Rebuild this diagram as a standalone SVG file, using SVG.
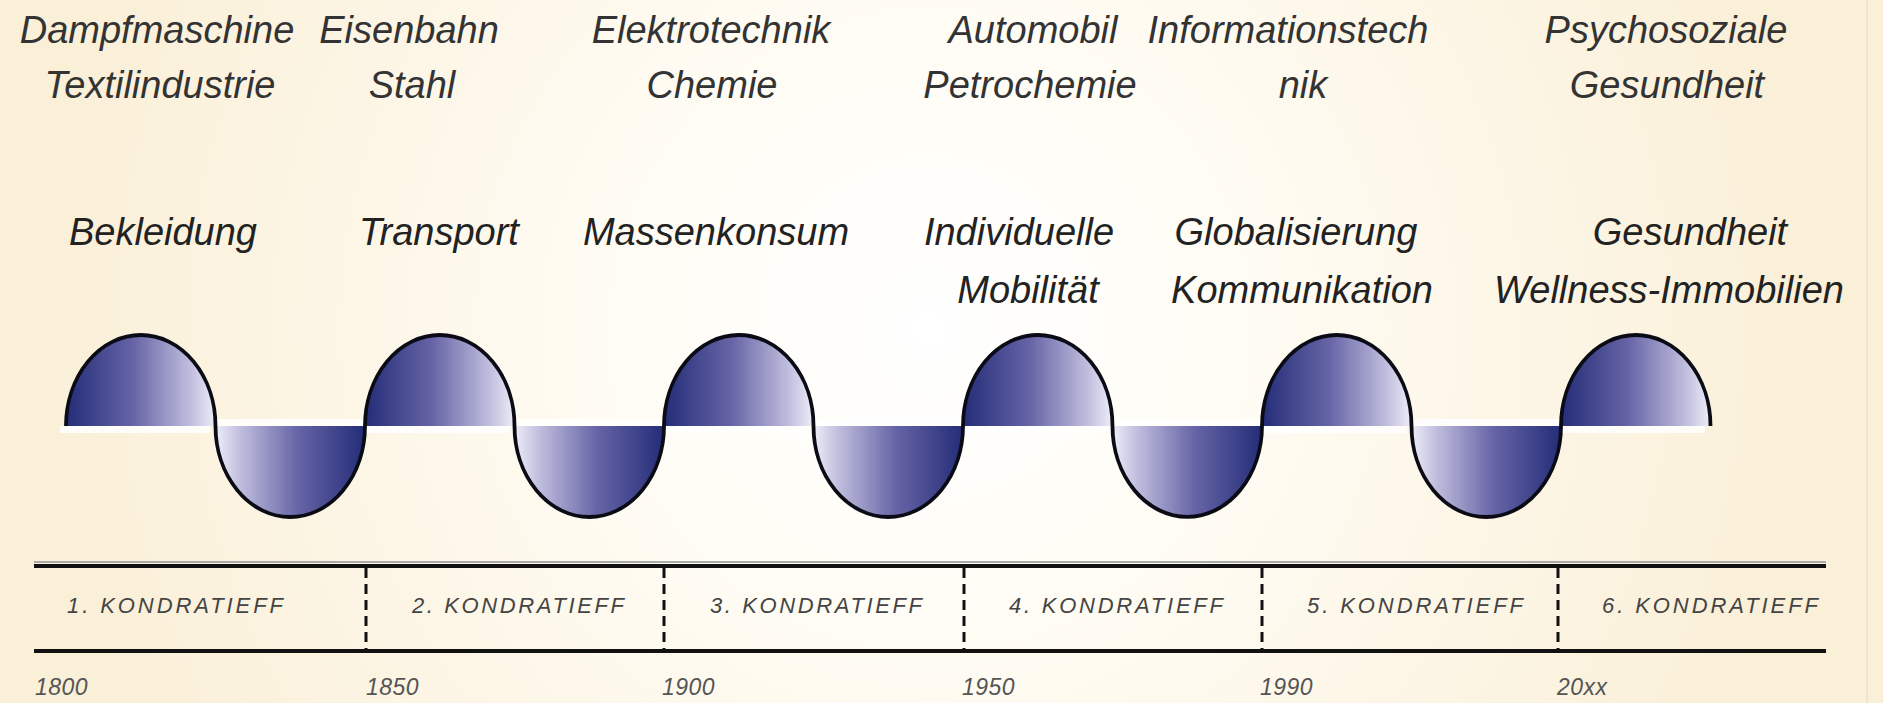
<svg xmlns="http://www.w3.org/2000/svg" width="1883" height="703" viewBox="0 0 1883 703">
<style>
.top{font-family:"Liberation Sans",Arial,sans-serif;font-style:italic;font-size:38px;fill:#333;text-anchor:middle}
.mid{font-family:"Liberation Sans",Arial,sans-serif;font-style:italic;font-size:38px;fill:#222;text-anchor:middle}
.k{font-family:"Liberation Sans",Arial,sans-serif;font-style:italic;font-size:22px;fill:#444;text-anchor:middle}
.yr{font-family:"Liberation Sans",Arial,sans-serif;font-style:italic;font-size:23px;fill:#555;letter-spacing:0.5px}
.hump{fill:url(#gh)}
.trough{fill:url(#gt)}
.glow{fill:#fff;opacity:0.85}
.sep{stroke:#111;stroke-width:3;stroke-dasharray:10 6;fill:none}
.axis{stroke:#111;stroke-width:4;fill:none}
</style>
<defs>
<radialGradient id="bg" cx="930" cy="330" r="900" gradientUnits="userSpaceOnUse">
<stop offset="0" stop-color="#ffffff"/>
<stop offset="0.35" stop-color="#fffcf4"/>
<stop offset="1" stop-color="#faefd7"/>
</radialGradient>
<linearGradient id="gh" x1="0" y1="0" x2="1" y2="0">
<stop offset="0" stop-color="#242d78"/>
<stop offset="0.45" stop-color="#6664a6"/>
<stop offset="0.85" stop-color="#c4c2e0"/>
<stop offset="1" stop-color="#eeeef8"/>
</linearGradient>
<linearGradient id="gt" x1="0" y1="0" x2="1" y2="0">
<stop offset="0" stop-color="#eeeef8"/>
<stop offset="0.15" stop-color="#c4c2e0"/>
<stop offset="0.55" stop-color="#6664a6"/>
<stop offset="1" stop-color="#242d78"/>
</linearGradient>
</defs>
<rect x="0" y="0" width="1883" height="703" fill="url(#bg)"/>
<line x1="1867" y1="0" x2="1867" y2="703" stroke="#efe5cf" stroke-width="2"/>

<g id="wave">
<g id="glows">
<rect class="glow" x="60" y="426" width="150" height="7"/>
<rect class="glow" x="359" y="426" width="150" height="7"/>
<rect class="glow" x="658" y="426" width="150" height="7"/>
<rect class="glow" x="957" y="426" width="150" height="7"/>
<rect class="glow" x="1256" y="426" width="150" height="7"/>
<rect class="glow" x="1555" y="426" width="150" height="7"/>
<rect class="glow" x="216" y="419" width="149" height="7"/>
<rect class="glow" x="515" y="419" width="149" height="7"/>
<rect class="glow" x="814" y="419" width="149" height="7"/>
<rect class="glow" x="1113" y="419" width="149" height="7"/>
<rect class="glow" x="1412" y="419" width="149" height="7"/>
</g>
<g id="humps">
<path class="hump" d="M66,426 A74.75,91 0 0 1 215.5,426 Z"/>
<path class="hump" d="M365,426 A74.75,91 0 0 1 514.5,426 Z"/>
<path class="hump" d="M664,426 A74.75,91 0 0 1 813.5,426 Z"/>
<path class="hump" d="M963,426 A74.75,91 0 0 1 1112.5,426 Z"/>
<path class="hump" d="M1262,426 A74.75,91 0 0 1 1411.5,426 Z"/>
<path class="hump" d="M1561,426 A74.75,91 0 0 1 1710.5,426 Z"/>
</g>
<g id="troughs">
<path class="trough" d="M215.5,426 A74.75,91 0 0 0 365,426 Z"/>
<path class="trough" d="M514.5,426 A74.75,91 0 0 0 664,426 Z"/>
<path class="trough" d="M813.5,426 A74.75,91 0 0 0 963,426 Z"/>
<path class="trough" d="M1112.5,426 A74.75,91 0 0 0 1262,426 Z"/>
<path class="trough" d="M1411.5,426 A74.75,91 0 0 0 1561,426 Z"/>
</g>
<path id="curve" fill="none" stroke="#0b0b16" stroke-width="3.8" d="M66,426 A74.75,91 0 0 1 215.5,426 A74.75,91 0 0 0 365,426 A74.75,91 0 0 1 514.5,426 A74.75,91 0 0 0 664,426 A74.75,91 0 0 1 813.5,426 A74.75,91 0 0 0 963,426 A74.75,91 0 0 1 1112.5,426 A74.75,91 0 0 0 1262,426 A74.75,91 0 0 1 1411.5,426 A74.75,91 0 0 0 1561,426 A74.75,91 0 0 1 1710.5,426"/>
</g>

<g id="timeline">
<line x1="34" y1="562" x2="1826" y2="562" stroke="#aaa" stroke-width="2"/>
<line class="axis" x1="34" y1="566" x2="1826" y2="566"/>
<line class="axis" x1="34" y1="651" x2="1826" y2="651"/>
<line class="sep" x1="366" y1="568" x2="366" y2="649"/>
<line class="sep" x1="664" y1="568" x2="664" y2="649"/>
<line class="sep" x1="964" y1="568" x2="964" y2="649"/>
<line class="sep" x1="1262" y1="568" x2="1262" y2="649"/>
<line class="sep" x1="1558" y1="568" x2="1558" y2="649"/>
</g>

<g id="k1"><text class="k" x="175" y="613" textLength="216" lengthAdjust="spacing">1. KONDRATIEFF</text><text class="yr" x="35" y="695">1800</text></g>
<g id="k2"><text class="k" x="518" y="613" textLength="212" lengthAdjust="spacing">2. KONDRATIEFF</text><text class="yr" x="366" y="695">1850</text></g>
<g id="k3"><text class="k" x="816" y="613" textLength="212" lengthAdjust="spacing">3. KONDRATIEFF</text><text class="yr" x="662" y="695">1900</text></g>
<g id="k4"><text class="k" x="1116" y="613" textLength="214" lengthAdjust="spacing">4. KONDRATIEFF</text><text class="yr" x="962" y="695">1950</text></g>
<g id="k5"><text class="k" x="1415" y="613" textLength="216" lengthAdjust="spacing">5. KONDRATIEFF</text><text class="yr" x="1260" y="695">1990</text></g>
<g id="k6"><text class="k" x="1710" y="613" textLength="216" lengthAdjust="spacing">6. KONDRATIEFF</text><text class="yr" x="1557" y="695">20xx</text></g>

<g id="tech1"><text class="top" x="157" y="43">Dampfmaschine</text><text class="top" x="160" y="98">Textilindustrie</text></g>
<g id="tech2"><text class="top" x="409" y="43">Eisenbahn</text><text class="top" x="412" y="98">Stahl</text></g>
<g id="tech3"><text class="top" x="711" y="43">Elektrotechnik</text><text class="top" x="712" y="98">Chemie</text></g>
<g id="tech4"><text class="top" x="1033" y="43">Automobil</text><text class="top" x="1030" y="98">Petrochemie</text></g>
<g id="tech5"><text class="top" x="1288" y="43">Informationstech</text><text class="top" x="1303" y="98">nik</text></g>
<g id="tech6"><text class="top" x="1666" y="43">Psychosoziale</text><text class="top" x="1667" y="98">Gesundheit</text></g>

<g id="need1"><text class="mid" x="163" y="245">Bekleidung</text></g>
<g id="need2"><text class="mid" x="439" y="245">Transport</text></g>
<g id="need3"><text class="mid" x="716" y="245">Massenkonsum</text></g>
<g id="need4"><text class="mid" x="1019" y="245">Individuelle</text><text class="mid" x="1028" y="303">Mobilität</text></g>
<g id="need5"><text class="mid" x="1296" y="245">Globalisierung</text><text class="mid" x="1302" y="303">Kommunikation</text></g>
<g id="need6"><text class="mid" x="1690" y="245">Gesundheit</text><text class="mid" x="1669" y="303">Wellness-Immobilien</text></g>
</svg>
